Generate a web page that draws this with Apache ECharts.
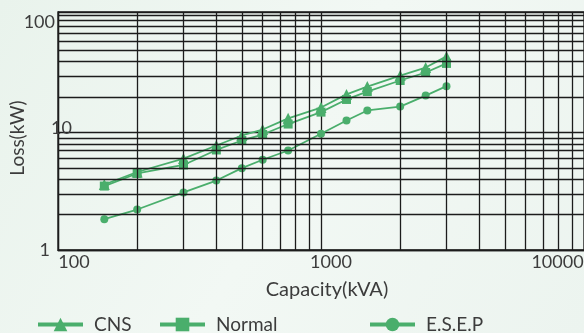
<!DOCTYPE html>
<html>
<head>
<meta charset="utf-8">
<script src="https://cdn.jsdelivr.net/npm/echarts@6/dist/echarts.min.js"></script>
<style>
html,body{margin:0;padding:0;background:#eef5f0;}
#c{width:584px;height:333px;}
</style>
</head>
<body>
<div id="c"></div>
<script>
// Data
var capacity = [150, 200, 300, 400, 500, 600, 750, 1000, 1250, 1500, 2000, 2500, 3000];
var cnsLoss = [3.61, 4.61, 6.0, 7.75, 9.43, 10.6, 13.2, 16.3, 21.1, 24.6, 30.5, 35.7, 44.4];
var normalLoss = [3.50, 4.48, 5.29, 7.10, 8.55, 9.61, 11.8, 14.9, 19.1, 22.3, 27.7, 32.4, 38.7];
var esepLoss = [1.83, 2.21, 3.09, 3.90, 4.97, 5.86, 7.03, 9.75, 12.65, 15.4, 16.6, 20.6, 24.8];
var seriesNames = ['CNS', 'Normal', 'E.S.E.P'];
var xTickLabels = [100, 1000, 10000];
var yTickLabels = [1, 10, 100];
var xMinorGrid = [200, 300, 400, 500, 600, 700, 800, 900, 2000, 3000, 4000, 5000, 6000, 7000, 8000, 9000];
var yMinorGrid = [2, 3, 4, 5, 6, 7, 8, 9, 20, 30, 40, 50, 60, 70, 80, 90];

function pairs(xs, ys) { return xs.map(function (x, i) { return [x, ys[i]]; }); }

var GREEN = '#4aae6c';
var GRIDC = '#1c1c1c';
var FONT = 'Lato';
var TXT = '#3c3c3c';
var TICKFS = 18;

var chart = echarts.init(document.getElementById('c'), null, {renderer: 'canvas'});

var gridMarks = [];
xMinorGrid.forEach(function (v) { gridMarks.push({xAxis: v}); });
yMinorGrid.forEach(function (v) { gridMarks.push({yAxis: v}); });

function legendItem(name, left, textPad) {
  return {
    data: [name], left: left, top: 310, padding: 5, itemWidth: 45, itemHeight: 17,
    lineStyle: {width: 4},
    textStyle: {fontFamily: FONT, fontSize: 19, color: TXT, padding: textPad},
    selectedMode: false
  };
}

function tickRich(pad) {
  return {fontFamily: FONT, fontSize: TICKFS, color: TXT, padding: pad};
}

chart.setOption({
  backgroundColor: {
    type: 'linear', x: 0, y: 0, x2: 1, y2: 1,
    colorStops: [{offset: 0, color: '#e9f3ec'}, {offset: 0.5, color: '#f2f8f4'}, {offset: 1, color: '#ecf4ef'}]
  },
  animation: false,
  grid: {left: 58, right: 0, top: 12, bottom: 83, containLabel: false, outerBoundsMode: 'none',
         show: true, borderColor: GRIDC, borderWidth: 1.3, backgroundColor: 'transparent'},
  legend: [
    legendItem('CNS', 31, [0, 0, 6, 6]),
    legendItem('Normal', 153, [0, 0, 0, 6]),
    legendItem('E.S.E.P', 363, [0, 0, 0, 6])
  ],
  xAxis: {
    type: 'log', logBase: 10, min: 100, max: 10000,
    name: '{n|Capacity(kVA)}', nameLocation: 'middle', nameGap: 30, nameMoveOverlap: false,
    nameTextStyle: {
      fontFamily: FONT, fontSize: 20, color: TXT,
      rich: {n: {fontFamily: FONT, fontSize: 20, color: TXT, padding: [0, 0, 0, 12]}}
    },
    axisLine: {show: true, lineStyle: {color: GRIDC, width: 1.3}},
    axisTick: {show: false},
    splitLine: {show: true, lineStyle: {color: GRIDC, width: 1.3}},
    axisLabel: {
      margin: 3, fontFamily: FONT, fontSize: TICKFS, color: TXT,
      formatter: function (v) {
        var r = Math.round(v);
        if (r === xTickLabels[0]) return '{a|' + r + '}';
        if (r === xTickLabels[1]) return '{b|' + r + '}';
        if (r === xTickLabels[2]) return '{c|' + r + '}';
        return '';
      },
      rich: {a: tickRich([0, 0, 0, 32]), b: tickRich([0, 0, 0, 20]), c: tickRich([0, 53, 0, 0])}
    }
  },
  yAxis: {
    type: 'log', logBase: 10, min: 1, max: 106,
    name: 'Loss(kW)', nameLocation: 'middle', nameGap: 31, nameRotate: 90, nameMoveOverlap: false,
    nameTextStyle: {fontFamily: FONT, fontSize: 19, color: TXT, padding: [0, 14, 0, 0]},
    axisLine: {show: true, lineStyle: {color: GRIDC, width: 1.3}},
    axisTick: {show: false},
    splitLine: {show: true, lineStyle: {color: GRIDC, width: 1.3}},
    axisLabel: {
      margin: -17, align: 'right', showMaxLabel: false,
      fontFamily: FONT, fontSize: TICKFS, color: TXT,
      formatter: function (v) {
        var r = Math.round(v);
        if (r === yTickLabels[2]) return '{a|' + r + '}';
        if (r === yTickLabels[1]) return '{b|' + r + '}';
        if (r === yTickLabels[0]) return '{c|' + r + '}';
        return '';
      },
      rich: {a: tickRich([14, 20, 0, 0]), b: tickRich([0, 3, 8, 0]), c: tickRich([0, 25, 0, 0])}
    }
  },
  series: [
    {
      name: '_grid', type: 'line', data: [], z: 1, silent: true,
      markLine: {
        silent: true, symbol: 'none', animation: false,
        label: {show: false},
        lineStyle: {color: GRIDC, width: 1.3, type: 'solid'},
        emphasis: {disabled: true},
        data: gridMarks
      }
    },
    {
      name: seriesNames[2], type: 'line', z: 3, data: pairs(capacity, esepLoss),
      symbol: 'circle', symbolSize: 8,
      lineStyle: {color: GREEN, width: 1.8}, itemStyle: {color: GREEN}
    },
    {
      name: seriesNames[1], type: 'line', z: 3, data: pairs(capacity, normalLoss),
      symbol: 'rect', symbolSize: 9,
      lineStyle: {color: GREEN, width: 1.8}, itemStyle: {color: GREEN}
    },
    {
      name: seriesNames[0], type: 'line', z: 4, data: pairs(capacity, cnsLoss),
      symbol: 'triangle', symbolSize: 11,
      lineStyle: {color: GREEN, width: 1.8}, itemStyle: {color: GREEN}
    }
  ]
});
</script>
</body>
</html>
